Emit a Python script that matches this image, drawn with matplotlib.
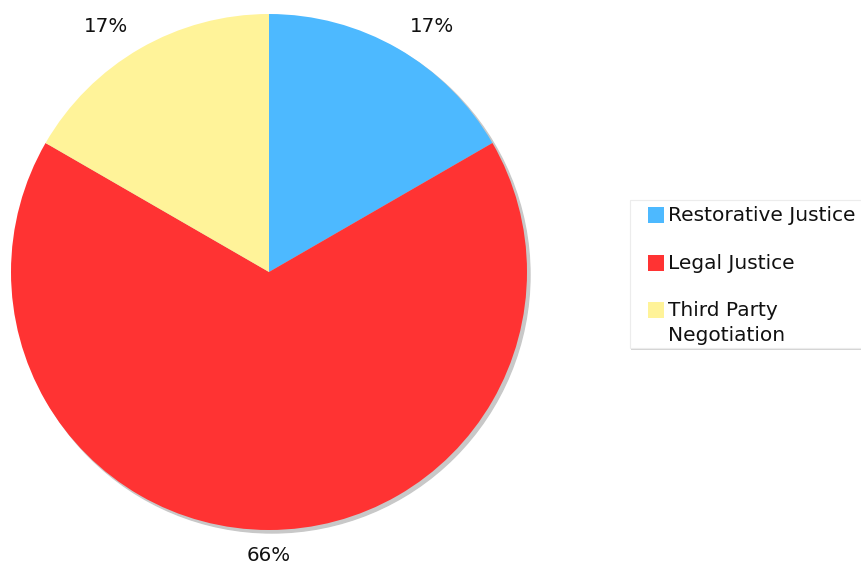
import numpy as np
import matplotlib
matplotlib.use('Agg')
import matplotlib.pyplot as plt
from matplotlib.patches import Circle, Rectangle

# data
categories = ['Restorative Justice', 'Legal Justice', 'Third Party\nNegotiation']
values = [1, 4, 1]
pct_labels = ['17%', '66%', '17%']
colors = ['#4db9ff', '#ff3333', '#fff399']

W, H = 862, 568
fig = plt.figure(figsize=(W / 100, H / 100), dpi=100)
ax = fig.add_axes([0, 0, 1, 1])

# pie geometry in pixel units (y measured from bottom)
cx, cy, R = 269, H - 272, 258

# shadow
ax.add_patch(Circle((cx + 3, cy - 3), R, color='#c8c8c8', zorder=0))

wedges, _ = ax.pie(values, colors=colors, startangle=90, counterclock=False,
                   center=(cx, cy), radius=R, frame=True,
                   wedgeprops=dict(linewidth=0))
ax.set_xlim(0, W)
ax.set_ylim(0, H)
ax.set_aspect('equal')
ax.axis('off')

# percentage labels outside the wedges
for w, txt in zip(wedges, pct_labels):
    ang = np.deg2rad((w.theta1 + w.theta2) / 2)
    c, s = np.cos(ang), np.sin(ang)
    x = cx + R * 1.09 * c
    y = cy + R * 1.1 * s
    ha = 'left' if c > 0.1 else ('right' if c < -0.1 else 'center')
    ax.text(x, y, txt, ha=ha, va='center', fontsize=14.3, color='#111111')

# legend box
lx0, ly0, lx1, ly1 = 630, 200, 862, 348
ax.add_patch(Rectangle((lx0 + 1, H - ly1 - 2), lx1 - lx0, ly1 - ly0,
                       facecolor='#d4d4d4', edgecolor='none', zorder=1))
ax.add_patch(Rectangle((lx0, H - ly1), lx1 - lx0, ly1 - ly0,
                       facecolor='white', edgecolor='#ececec', linewidth=0.8, zorder=2))

entry_y = [215, 263, 310]
for yy, col, lab in zip(entry_y, colors, categories):
    ax.add_patch(Rectangle((648, H - yy - 8), 16, 16, facecolor=col,
                           edgecolor='none', zorder=3))
    # first line of each label centred on its swatch
    ax.text(668, H - yy + 9, lab, ha='left', va='top', fontsize=14.5,
            color='#111111', zorder=3, linespacing=1.4)

fig.savefig('out.png', dpi=100)
